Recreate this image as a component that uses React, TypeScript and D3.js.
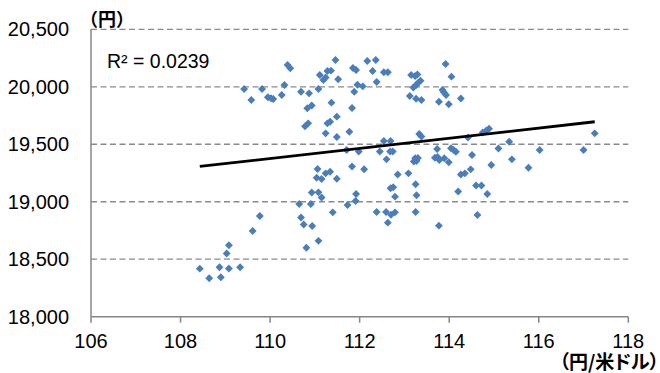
import React from "react";
import * as d3 from "d3";

// USD/JPY rate (円/米ドル)
const rateX: number[] = [
  108.43, 108.64, 108.87, 108.9, 109.03, 109.08, 109.08, 109.33, 109.61, 109.77,
  110.65, 110.69, 110.75, 110.81, 110.91, 110.94, 110.93, 111.08, 111.08, 111.15,
  109.42, 109.58, 109.82, 109.95, 110.02, 110.07, 110.26, 110.32, 110.39, 110.45,
  110.69, 110.87, 111.08, 111.11, 111.19, 111.24, 111.28, 111.36, 111.46, 111.52,
  110.83, 110.93, 110.78, 110.85, 111.24, 111.28, 111.34, 111.37, 111.49, 111.49,
  111.77, 111.83, 111.88, 111.85, 111.92, 111.95, 112.07, 112.17, 112.36, 112.29,
  112.38, 112.54, 112.63, 113.15, 113.24, 113.29, 113.2, 113.26, 113.31, 113.36,
  113.12, 113.26, 113.38, 113.85, 113.88, 113.93, 113.92, 114.05, 113.77, 113.99,
  114.26, 112.54, 112.69, 113.33, 113.38, 111.71, 111.98, 112.45, 112.68, 112.74,
  112.6, 113.21, 113.27, 113.24, 113.3, 111.83, 112.1, 111.34, 111.24, 111.15,
  111.06, 111.04, 111.49, 112.85, 113.09, 113.25, 112.69, 112.75, 112.79, 113.27,
  111.92, 111.91, 111.73, 111.4, 112.38, 112.59, 112.7, 112.79, 112.63, 113.25,
  113.77, 114.2, 114.6, 114.72, 114.85, 114.63, 113.73, 114.04, 114.1, 114.15,
  113.68, 113.74, 113.78, 113.89, 113.99, 114.51, 114.48, 114.26, 114.35, 114.42,
  114.75, 114.83, 114.89, 114.94, 115.1, 115.34, 115.4, 115.77, 116.02, 117.0,
  117.25,
];

// Price (円)
const priceY: number[] = [
  18418, 18334, 18430, 18343, 18550, 18621, 18419, 18430, 18746, 18876,
  18980, 18863, 18802, 18600, 18980, 18789, 19080, 18660, 19082, 19037,
  19981, 19885, 19981, 19909, 19900, 19894, 19929, 20016, 20190, 20161,
  19957, 19943, 19981, 20103, 20059, 20081, 20137, 20140, 20233, 20065,
  19813, 19837, 19656, 19682, 19595, 19682, 19696, 19862, 19740, 19563,
  19609, 19815, 19957, 20163, 20146, 20018, 20004, 20224, 20233, 20137,
  20042, 20126, 20126, 20103, 20094, 20107, 19994, 20016, 20036, 20053,
  19920, 19896, 19885, 19972, 19952, 19929, 20198, 20088, 19870, 19848,
  19898, 19528, 19528, 19589, 19568, 19450, 19437, 19437, 19437, 19437,
  19369, 19350, 19354, 19378, 19380, 19307, 19283, 19261, 19247, 19198,
  19285, 19209, 19200, 19237, 19247, 19152, 19117, 19126, 19044, 19056,
  19067, 19006, 18972, 18908, 18911, 18911, 18887, 18908, 18818, 18911,
  18792, 19089, 19141, 19141, 19067, 18885, 19459, 19465, 19450, 19435,
  19383, 19389, 19363, 19378, 19343, 19407, 19282, 19237, 19247, 19559,
  19602, 19620, 19635, 19320, 19463, 19522, 19369, 19296, 19450, 19450,
  19595,
];

const xTicks: number[] = [106, 108, 110, 112, 114, 116, 118];
const yTicks: number[] = [18000, 18500, 19000, 19500, 20000, 20500];
const trendSlope = 44.1;
const trendIntercept = 14525;
const r2Label = "R² = 0.0239";
const yUnitLabel = "（円）";
const xUnitLabel = "（円/米ドル）";

const W = 660;
const H = 373;
const numFont = "'Liberation Sans', Arial, sans-serif";
const cjkFont = "'Noto Sans CJK JP', sans-serif";

export default function App() {
  const x = d3.scaleLinear().domain([106, 118]).range([91, 628.3]);
  const y = d3.scaleLinear().domain([18000, 20500]).range([316.7, 29.3]);
  const fmt = d3.format(",");
  const xMin = d3.min(rateX) as number;
  const xMax = d3.max(rateX) as number;
  const trend = d3
    .line<number>()
    .x((d) => x(d))
    .y((d) => y(trendSlope * d + trendIntercept));
  const marker = d3.symbol(d3.symbolSquare, 31)();
  const pts = rateX.map((v, i) => [v, priceY[i]] as [number, number]);

  return (
    <svg
      width={W}
      height={H}
      style={{ position: "absolute", left: 0, top: 0, background: "#fff" }}
    >
      <rect x={0} y={0} width={W} height={H} fill="#fff" />
      {/* gridlines */}
      {yTicks
        .filter((t) => t > 18000)
        .map((t) => (
          <line
            key={"g" + t}
            x1={x(106)}
            x2={x(118)}
            y1={y(t)}
            y2={y(t)}
            stroke="#8a8a8a"
            strokeWidth={1.3}
            strokeDasharray="6,3.5"
          />
        ))}
      {/* axes */}
      <line x1={x(106)} x2={x(106)} y1={y(20500)} y2={y(18000)} stroke="#868686" strokeWidth={1.5} />
      <line x1={x(106)} x2={x(118)} y1={y(18000)} y2={y(18000)} stroke="#868686" strokeWidth={1.5} />
      {xTicks.map((t) => (
        <line key={"t" + t} x1={x(t)} x2={x(t)} y1={y(18000)} y2={y(18000) + 6} stroke="#868686" strokeWidth={1.5} />
      ))}
      {/* tick labels */}
      {yTicks.map((t) => (
        <text
          key={"yl" + t}
          x={69}
          y={y(t) + 7}
          textAnchor="end"
          fontFamily={numFont}
          fontSize={20}
          fill="#000"
        >
          {fmt(t)}
        </text>
      ))}
      {xTicks.map((t) => (
        <text
          key={"xl" + t}
          x={x(t)}
          y={348}
          textAnchor="middle"
          fontFamily={numFont}
          fontSize={20}
          fill="#000"
        >
          {t}
        </text>
      ))}
      {/* points */}
      {pts.map(([a, b], i) => (
        <path
          key={"p" + i}
          d={marker as string}
          transform={`translate(${x(a)},${y(b)}) rotate(45)`}
          fill="#4a7ebb"
        />
      ))}
      {/* trend line */}
      <path d={trend([xMin, xMax]) as string} stroke="#000" strokeWidth={2.8} fill="none" />
      {/* labels */}
      <text x={107} y={68} fontFamily={numFont} fontSize={19.5} fill="#000">
        {r2Label}
      </text>
      <text x={80} y={26} fontFamily={cjkFont} fontWeight="bold" fontSize={18} fill="#000">
        {yUnitLabel}
      </text>
      <text
        x={659}
        y={368.5}
        textAnchor="end"
        fontFamily={cjkFont}
        fontWeight="bold"
        fontSize={19}
        fill="#000"
        style={{ fontFeatureSettings: '"palt"' }}
      >
        {xUnitLabel}
      </text>
    </svg>
  );
}
